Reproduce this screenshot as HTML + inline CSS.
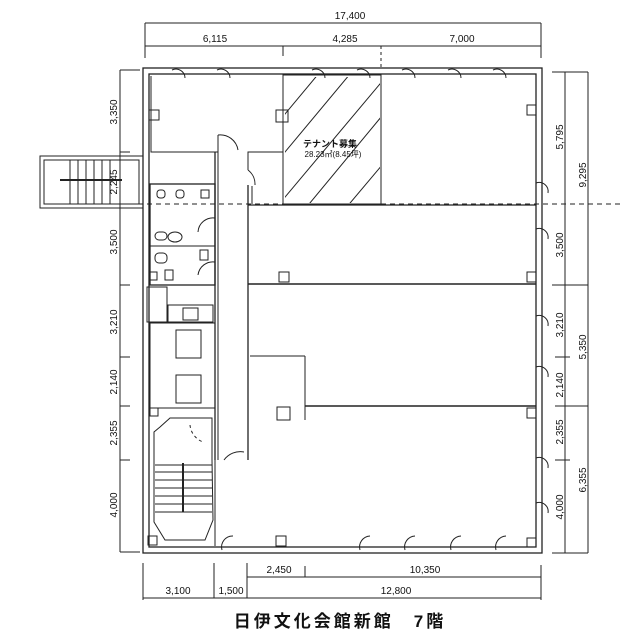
<!DOCTYPE html>
<html><head><meta charset="utf-8"><style>
html,body{margin:0;padding:0;background:#fff;}
svg{display:block}
text{font-family:"Liberation Sans","Noto Sans CJK JP",sans-serif;fill:#111;}
</style></head><body>
<svg width="640" height="635" viewBox="0 0 640 635" xmlns="http://www.w3.org/2000/svg">
<defs>
<clipPath id="hc"><rect x="285" y="77" width="95" height="126"/></clipPath>
</defs>
<g stroke="#222" stroke-width="1" fill="none">
<line x1="145" y1="23" x2="541" y2="23"/>
<line x1="541" y1="23" x2="541" y2="58"/>
<line x1="145" y1="23" x2="145" y2="58"/>
<line x1="145" y1="46" x2="541" y2="46"/>
<line x1="283" y1="46" x2="283" y2="56"/>
<line x1="381" y1="46" x2="381" y2="70" stroke-dasharray="3,3"/>
<line x1="120" y1="70" x2="120" y2="552"/>
<line x1="120" y1="70" x2="140" y2="70"/>
<line x1="120" y1="552" x2="140" y2="552"/>
<line x1="120" y1="152" x2="130" y2="152"/>
<line x1="120" y1="285" x2="130" y2="285"/>
<line x1="120" y1="357" x2="130" y2="357"/>
<line x1="120" y1="406" x2="130" y2="406"/>
<line x1="120" y1="460" x2="130" y2="460"/>
<line x1="565" y1="72" x2="565" y2="553"/>
<line x1="588" y1="72" x2="588" y2="553"/>
<line x1="552" y1="72" x2="588" y2="72"/>
<line x1="552" y1="553" x2="588" y2="553"/>
<line x1="552" y1="285" x2="588" y2="285"/>
<line x1="555" y1="357" x2="570" y2="357"/>
<line x1="555" y1="406" x2="588" y2="406"/>
<line x1="555" y1="460" x2="570" y2="460"/>
<line x1="120" y1="204" x2="622" y2="204" stroke-dasharray="5,4"/>
<line x1="247" y1="577" x2="541" y2="577"/>
<line x1="247" y1="563" x2="247" y2="598"/>
<line x1="305" y1="566" x2="305" y2="577"/>
<line x1="541" y1="565" x2="541" y2="600"/>
<line x1="143" y1="598" x2="541" y2="598"/>
<line x1="143" y1="563" x2="143" y2="600"/>
<line x1="214" y1="563" x2="214" y2="598"/>
<rect x="143" y="68" width="399" height="485" stroke-width="1.3"/>
<rect x="149" y="74" width="387" height="473" stroke-width="1.3"/>
<rect x="40" y="156" width="103" height="52"/>
<rect x="44" y="160" width="95" height="44"/>
<line x1="60" y1="180" x2="122" y2="180" stroke-width="2"/>
<line x1="70" y1="160" x2="70" y2="204"/><line x1="78" y1="160" x2="78" y2="204"/><line x1="86" y1="160" x2="86" y2="204"/><line x1="94" y1="160" x2="94" y2="204"/><line x1="102" y1="160" x2="102" y2="204"/><line x1="110" y1="160" x2="110" y2="204"/>
<polyline points="151,76 151,152 218,152 218,135"/>
<polyline points="283,76 283,152 248,152 248,170"/>
<rect x="149" y="110" width="10" height="10"/>
<rect x="276" y="110" width="12" height="12"/>
<path d="M218,135 A18,18 0 0 1 238,150"/>
<path d="M248,170 A18,18 0 0 1 255,185"/>
<rect x="283" y="75" width="98" height="129"/>
<g clip-path="url(#hc)">
<line x1="280" y1="120" x2="330" y2="60"/>
<line x1="270" y1="170" x2="370" y2="50"/>
<line x1="270" y1="215" x2="400" y2="60"/>
<line x1="300" y1="215" x2="420" y2="70"/>
<line x1="340" y1="215" x2="420" y2="120"/>
</g>
<line x1="215" y1="152" x2="215" y2="460" stroke-width="1.3"/>
<line x1="218" y1="152" x2="218" y2="460"/>
<line x1="248" y1="185" x2="248" y2="460" stroke-width="1.3"/>
<line x1="252" y1="186" x2="252" y2="204"/>
<line x1="248" y1="205" x2="536" y2="205" stroke-width="1.3"/>
<line x1="248" y1="284" x2="536" y2="284" stroke-width="1.5"/>
<line x1="250" y1="356" x2="305" y2="356"/>
<line x1="305" y1="356" x2="305" y2="420"/>
<line x1="305" y1="406" x2="536" y2="406" stroke-width="1.5"/>
<rect x="279" y="272" width="10" height="10"/>
<rect x="277" y="407" width="13" height="13"/>
<rect x="527" y="105" width="9" height="10"/>
<rect x="527" y="272" width="9" height="10"/>
<rect x="527" y="408" width="9" height="10"/>
<rect x="527" y="538" width="9" height="9"/>
<rect x="150" y="184" width="65" height="101" stroke-width="1.3"/>
<line x1="150" y1="246" x2="215" y2="246"/>
<rect x="157" y="190" width="8" height="8" rx="3"/>
<rect x="176" y="190" width="8" height="8" rx="3"/>
<rect x="201" y="190" width="8" height="8"/>
<rect x="155" y="232" width="12" height="8" rx="4"/>
<ellipse cx="175" cy="237" rx="7" ry="5"/>
<rect x="155" y="253" width="12" height="10" rx="4"/>
<rect x="200" y="250" width="8" height="10"/>
<rect x="149" y="272" width="8" height="8"/>
<rect x="165" y="270" width="8" height="10"/>
<path d="M198,232 A15,15 0 0 1 215,218"/>
<path d="M198,275 A15,15 0 0 1 215,262"/>
<rect x="147" y="287" width="20" height="35"/>
<rect x="168" y="305" width="45" height="17"/>
<rect x="183" y="308" width="15" height="12"/>
<rect x="150" y="323" width="65" height="85"/>
<rect x="176" y="330" width="25" height="28"/>
<rect x="176" y="375" width="25" height="28"/>
<rect x="150" y="408" width="8" height="8"/>
<polygon points="160,427 170,418 212,418 212,460 213,520 205,540 165,540 154,522 154,432"/>
<line x1="155" y1="465" x2="212" y2="465"/><line x1="155" y1="472" x2="212" y2="472"/><line x1="155" y1="480" x2="212" y2="480"/><line x1="155" y1="488" x2="212" y2="488"/><line x1="155" y1="496" x2="212" y2="496"/><line x1="155" y1="504" x2="212" y2="504"/><line x1="155" y1="512" x2="212" y2="512"/>
<line x1="183" y1="463" x2="183" y2="512" stroke-width="2"/>
<rect x="148" y="536" width="9" height="9"/>
<line x1="215" y1="460" x2="215" y2="546"/>
<path d="M224,460 A20,20 0 0 1 244,452"/>
<path d="M190,425 A20,20 0 0 0 203,442" stroke-dasharray="3,3"/>
<path d="M172,70 A9,9 0 0 1 185,78"/><path d="M217,70 A9,9 0 0 1 230,78"/>
<path d="M312,70 A9,9 0 0 1 325,78"/><path d="M357,70 A9,9 0 0 1 370,78"/>
<path d="M402,70 A9,9 0 0 1 415,78"/><path d="M448,70 A9,9 0 0 1 461,78"/><path d="M493,70 A9,9 0 0 1 506,78"/>
<path d="M536,183 A9,9 0 0 1 548,193"/><path d="M536,229 A9,9 0 0 1 548,239"/>
<path d="M536,316 A9,9 0 0 1 548,326"/><path d="M536,367 A9,9 0 0 1 548,377"/>
<path d="M536,458 A9,9 0 0 1 548,468"/><path d="M536,503 A9,9 0 0 1 548,513"/>
<path d="M222,550 A11,11 0 0 1 233,536"/><path d="M360,550 A11,11 0 0 1 370,536"/>
<path d="M405,550 A11,11 0 0 1 415,536"/><path d="M451,550 A11,11 0 0 1 461,536"/><path d="M496,550 A11,11 0 0 1 506,536"/>
<rect x="276" y="536" width="10" height="10"/>
</g>
<g font-size="10" text-anchor="middle">
<text x="350" y="19">17,400</text>
<text x="215" y="42">6,115</text>
<text x="345" y="42">4,285</text>
<text x="462" y="42">7,000</text>
<text x="279" y="573">2,450</text>
<text x="425" y="573">10,350</text>
<text x="178" y="594">3,100</text>
<text x="231" y="594">1,500</text>
<text x="396" y="594">12,800</text>
<text transform="translate(117,112) rotate(-90)">3,350</text>
<text transform="translate(117,182) rotate(-90)">2,245</text>
<text transform="translate(117,242) rotate(-90)">3,500</text>
<text transform="translate(117,322) rotate(-90)">3,210</text>
<text transform="translate(117,382) rotate(-90)">2,140</text>
<text transform="translate(117,433) rotate(-90)">2,355</text>
<text transform="translate(117,505) rotate(-90)">4,000</text>
<text transform="translate(563,137) rotate(-90)">5,795</text>
<text transform="translate(563,245) rotate(-90)">3,500</text>
<text transform="translate(563,325) rotate(-90)">3,210</text>
<text transform="translate(563,385) rotate(-90)">2,140</text>
<text transform="translate(563,432) rotate(-90)">2,355</text>
<text transform="translate(563,507) rotate(-90)">4,000</text>
<text transform="translate(586,175) rotate(-90)">9,295</text>
<text transform="translate(586,347) rotate(-90)">5,350</text>
<text transform="translate(586,480) rotate(-90)">6,355</text>
</g>
<text x="330" y="147" font-size="9" font-weight="bold" text-anchor="middle">テナント募集</text>
<text x="333" y="157" font-size="8" text-anchor="middle">28.23㎡(8.45坪)</text>
<text x="340" y="627" font-size="17" font-weight="bold" text-anchor="middle" letter-spacing="3">日伊文化会館新館　7階</text>
</svg>
</body></html>
